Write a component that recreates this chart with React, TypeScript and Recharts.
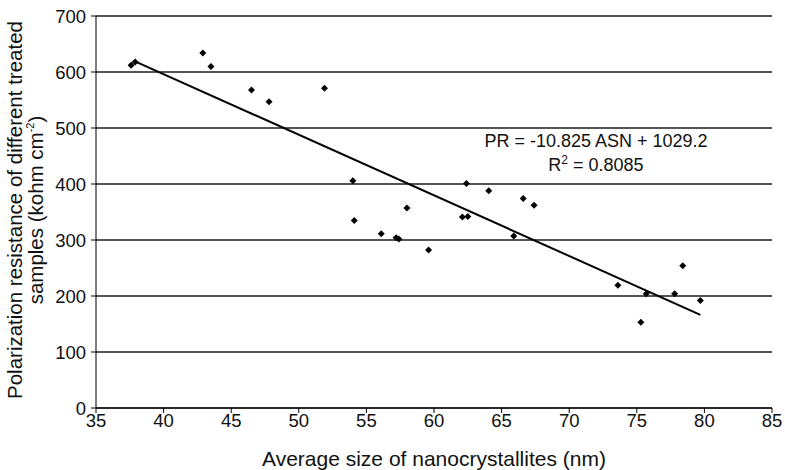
import { CartesianGrid, Scatter, ScatterChart, XAxis, YAxis } from "recharts";

// average size of nanocrystallites (nm) vs polarization resistance (kohm cm-2)
const sizeNm = [
  37.6, 37.9, 42.9, 43.5, 46.5, 47.8, 51.9, 54.0, 54.1, 56.1, 57.2, 57.4, 58.0, 59.6,
  62.1, 62.4, 62.5, 64.05, 65.9, 66.6, 67.4, 73.6, 75.3, 75.7, 77.8, 78.4, 79.7,
];
const resistance = [
  612, 618, 634, 610, 568, 547, 571, 406, 335, 311, 304, 302, 357, 282,
  341, 401, 342, 388, 307, 374, 362, 219, 153, 204, 204, 254, 192,
];

const xTicks = [35, 40, 45, 50, 55, 60, 65, 70, 75, 80, 85];
const yTicks = [0, 100, 200, 300, 400, 500, 600, 700];

// fit: PR = -10.825 ASN + 1029.2
const slope = -10.825;
const intercept = 1029.2;
const fitRange = [37.8, 79.7];

const points = sizeNm.map((x, i) => ({ x, y: resistance[i] }));
const trend = fitRange.map((x) => ({ x, y: slope * x + intercept }));

const font = '"Liberation Sans", Arial, sans-serif';

function Diamond({ cx, cy }: { cx?: number; cy?: number }) {
  if (cx == null || cy == null) return <g />;
  const r = 3.5;
  return (
    <polygon
      points={`${cx},${cy - r} ${cx + r},${cy} ${cx},${cy + r} ${cx - r},${cy}`}
      fill="#000"
    />
  );
}

function YTitle({ viewBox }: { viewBox?: { x: number; y: number; height: number } }) {
  const cy = viewBox ? viewBox.y + viewBox.height / 2 - 2 : 210;
  return (
    <g fontFamily={font} fontSize={20.5} fill="#111">
      <text x={14} y={cy} transform={`rotate(-90 14 ${cy})`} textAnchor="middle" dominantBaseline="central">
        Polarization resistance of different treated
      </text>
      <text x={35} y={cy} transform={`rotate(-90 35 ${cy})`} textAnchor="middle" dominantBaseline="central">
        samples (kohm cm<tspan fontSize={11} dy={-5}>-2</tspan>
        <tspan dy={5}>)</tspan>
      </text>
    </g>
  );
}

export default function App() {
  return (
    <div style={{ position: "absolute", left: 0, top: 0, width: 785, height: 470, background: "#fff" }}>
      <ScatterChart width={785} height={470} margin={{ top: 16, right: 13, bottom: 0, left: 0 }}>
        <CartesianGrid vertical={false} stroke="#555" strokeWidth={2} />
        <XAxis
          type="number"
          dataKey="x"
          domain={[35, 85]}
          ticks={xTicks}
          interval={0}
          height={62}
          stroke="#000"
          tickSize={5}
          tickMargin={1}
          tick={{ fontSize: 18.5, fill: "#111", fontFamily: font }}
          label={{
            value: "Average size of nanocrystallites (nm)",
            position: "insideBottom",
            offset: 4,
            fontSize: 21,
            fill: "#111",
            fontFamily: font,
          }}
        />
        <YAxis
          type="number"
          dataKey="y"
          domain={[0, 700]}
          ticks={yTicks}
          interval={0}
          width={96}
          stroke="#000"
          tickSize={5}
          tickMargin={5}
          tick={{ fontSize: 18.5, fill: "#111", fontFamily: font }}
          label={<YTitle />}
        />
        <Scatter data={points} shape={<Diamond />} isAnimationActive={false} />
        <Scatter
          data={trend}
          line={{ stroke: "#000", strokeWidth: 2 }}
          shape={() => <g />}
          isAnimationActive={false}
        />
      </ScatterChart>
      <div
        style={{
          position: "absolute",
          left: 476,
          top: 129,
          width: 240,
          textAlign: "center",
          fontFamily: font,
          fontSize: 18,
          lineHeight: "24px",
          color: "#111",
          whiteSpace: "nowrap",
        }}
      >
        <div>PR = -10.825 ASN + 1029.2</div>
        <div>
          R<sup style={{ fontSize: 12, lineHeight: 0 }}>2</sup> = 0.8085
        </div>
      </div>
    </div>
  );
}
